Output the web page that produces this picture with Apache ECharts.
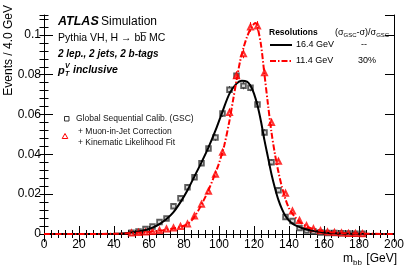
<!DOCTYPE html>
<html><head><meta charset="utf-8">
<script src="https://cdn.jsdelivr.net/npm/echarts@6/dist/echarts.min.js"></script>
<style>html,body{margin:0;padding:0;background:#fff}#c{width:407px;height:276px}</style>
</head><body><div id="c"></div>
<script>
// ---- data ----
const binCenters = [50,54,58,62,66,70,74,78,82,86,90,94,98,102,106,110,114,118,122,126,130,134,138,142,146,150,154,158,162,166,170,174,178,182];
const gscPoints = [0.0006,0.0012,0.0025,0.0038,0.0060,0.0078,0.0140,0.0180,0.0235,0.0285,0.0355,0.0430,0.0485,0.0605,0.0725,0.0795,0.0745,0.0735,0.0650,0.0510,0.0360,0.0220,0.0085,0.0065,0.0030,0.0018,0.0012,0.0008,0.0005,0.0005,0.0004,0.0002,0.0001,0.0001];
const gscErrors = [0.0003,0.0004,0.0005,0.0006,0.0007,0.0008,0.0010,0.0011,0.0012,0.0013,0.0014,0.0015,0.0016,0.0017,0.0018,0.0019,0.0018,0.0018,0.0017,0.0016,0.0014,0.0011,0.0007,0.0006,0.0004,0.0003,0.0003,0.0002,0.0002,0.0002,0.0002,0.0001,0.0001,0.0001];
const klfPoints = [0.0005,0.0008,0.0010,0.0013,0.0018,0.0025,0.0030,0.0038,0.0050,0.0090,0.0150,0.0215,0.0300,0.0410,0.0610,0.0795,0.0905,0.1040,0.1045,0.0810,0.0560,0.0365,0.0205,0.0115,0.0068,0.0042,0.0026,0.0016,0.0010,0.0007,0.0005,0.0003,0.0002,0.0001];
const klfErrors = [0.0002,0.0003,0.0003,0.0004,0.0004,0.0005,0.0005,0.0006,0.0007,0.0009,0.0011,0.0013,0.0015,0.0017,0.0019,0.0021,0.0022,0.0024,0.0024,0.0021,0.0018,0.0014,0.0011,0.0008,0.0006,0.0005,0.0004,0.0003,0.0002,0.0002,0.0002,0.0001,0.0001,0.0001];
const fitGscX = [0,40,46,50,54,58,62,66,70,74,78,82,86,90,94,98,102,106,110,113,116,118,120,122,124,126,128,130,132,134,136,138,140,142,144,148,152,156,160,166,172,180,200];
const fitGscY = [0,0.0001,0.0004,0.0008,0.0013,0.0020,0.0032,0.0050,0.0075,0.0110,0.0160,0.0220,0.0290,0.0360,0.0435,0.0520,0.0615,0.0705,0.0755,0.0770,0.0765,0.0745,0.0705,0.0645,0.0565,0.0470,0.0385,0.0300,0.0230,0.0170,0.0125,0.0090,0.0068,0.0052,0.0042,0.0028,0.0019,0.0013,0.0008,0.0004,0.0002,0.0001,0];
const fitKlfX = [0,40,50,56,62,68,74,78,82,85,88,91,94,97,100,103,106,108,110,112,114,116,118,120,121,122,124,126,128,130,132,134,136,138,140,143,146,150,154,158,164,170,180,200];
const fitKlfY = [0,0.0001,0.0005,0.0008,0.0012,0.0019,0.0028,0.0036,0.0050,0.0075,0.0115,0.0165,0.0220,0.0285,0.0355,0.0445,0.0570,0.0670,0.0770,0.0865,0.0935,0.0990,0.1030,0.1055,0.1060,0.1040,0.0950,0.0800,0.0650,0.0510,0.0400,0.0310,0.0235,0.0175,0.0130,0.0090,0.0062,0.0038,0.0024,0.0016,0.0009,0.0005,0.0002,0];
const xRange = [0, 200], xStep = 20;
const yRange = [0, 0.11], yStep = 0.02, yMinorStep = 0.004;

const FONT = '"Liberation Sans", Arial, Helvetica, sans-serif';
const RED = '#ff0000';
const chart = echarts.init(document.getElementById('c'), null, {renderer: 'canvas'});

const zip = (xs, ys) => xs.map((x, i) => [x, ys[i]]);
const withErr = (ys, es) => binCenters.map((x, i) => [x, ys[i], es[i]]);

function errBar(color) {
  return function (params, api) {
    const x = api.value(0), y = api.value(1), e = api.value(2);
    const p1 = api.coord([x, y + e]), p2 = api.coord([x, y - e]);
    return {type: 'line', shape: {x1: p1[0], y1: p1[1], x2: p2[0], y2: p2[1]},
            style: {stroke: color, lineWidth: 1}};
  };
}

const xBase = {
  type: 'value', min: xRange[0], max: xRange[1], interval: xStep,
  axisLine: {show: true, lineStyle: {color: '#000', width: 1}},
  axisTick: {show: true, inside: true, length: 8, lineStyle: {color: '#000', width: 1}},
  minorTick: {show: true, splitNumber: 5, length: 4, lineStyle: {color: '#000', width: 1}},
  splitLine: {show: false}, minorSplitLine: {show: false}
};
const yMajor = (pos, labels) => ({
  type: 'value', position: pos, min: yRange[0], max: yRange[1], interval: yStep,
  axisLine: {show: true, onZero: false, lineStyle: {color: '#000', width: 1}},
  axisTick: {show: true, inside: true, length: 9, lineStyle: {color: '#000', width: 1}},
  splitLine: {show: false},
  axisLabel: labels ? {show: true, showMaxLabel: false, color: '#000', fontSize: 12, fontFamily: FONT, margin: 3,
    formatter: v => v === 0 ? '0' : String(parseFloat(v.toFixed(3)))} : {show: false}
});
const yMinor = (pos) => ({
  type: 'value', position: pos, min: yRange[0], max: yRange[1], interval: yMinorStep,
  axisLine: {show: false},
  axisTick: {show: true, inside: true, length: 4.5, lineStyle: {color: '#000', width: 1}},
  splitLine: {show: false}, axisLabel: {show: false}
});

const option = {
  animation: false,
  backgroundColor: '#fff',
  grid: {left: 44, right: 12, top: 15, bottom: 42, containLabel: false},
  xAxis: [
    Object.assign({}, xBase, {position: 'bottom',
      axisLabel: {show: true, color: '#000', fontSize: 12, fontFamily: FONT, margin: 5}}),
    Object.assign({}, xBase, {position: 'top', axisLabel: {show: false}})
  ],
  yAxis: [yMajor('left', true), yMinor('left'), yMajor('right', false), yMinor('right')],
  series: [
    {type: 'custom', xAxisIndex: 0, yAxisIndex: 0, renderItem: errBar('#333'),
     data: withErr(gscPoints, gscErrors), z: 2, silent: true},
    {type: 'custom', xAxisIndex: 0, yAxisIndex: 0, renderItem: errBar(RED),
     data: withErr(klfPoints, klfErrors), z: 2, silent: true},
    {type: 'scatter', xAxisIndex: 0, yAxisIndex: 0, symbol: 'emptyRect', symbolSize: 4.5,
     itemStyle: {color: '#333', borderColor: '#333', borderWidth: 1},
     data: zip(binCenters, gscPoints), z: 3},
    {type: 'scatter', xAxisIndex: 0, yAxisIndex: 0, symbol: 'emptyTriangle', symbolSize: 5,
     itemStyle: {color: RED, borderColor: RED, borderWidth: 1},
     data: zip(binCenters, klfPoints), z: 3},
    {type: 'line', xAxisIndex: 0, yAxisIndex: 0, data: zip(fitGscX, fitGscY), smooth: 0.3,
     showSymbol: false, lineStyle: {color: '#000', width: 2}, z: 4},
    {type: 'line', xAxisIndex: 0, yAxisIndex: 0, data: zip(fitKlfX, fitKlfY), smooth: 0.3,
     showSymbol: false, lineStyle: {color: RED, width: 2, type: [6, 2, 1.5, 2]}, z: 5}
  ],
  graphic: [
    {type: 'text', x: 9, y: 5, rotation: Math.PI / 2,
     style: {text: 'Events / 4.0 GeV', fill: '#000', font: '12px ' + FONT, textAlign: 'right', textVerticalAlign: 'middle'}},
    {type: 'text', x: 397, y: 259,
     style: {text: 'm{s|bb} [GeV]', fill: '#000', font: '12px ' + FONT, textAlign: 'right', textVerticalAlign: 'middle',
       rich: {s: {fontSize: 8, fontFamily: FONT, padding: [7, 1, 0, 0]}}}},
    {type: 'text', x: 58, y: 22,
     style: {text: 'ATLAS', fill: '#000', font: 'italic bold 12.5px ' + FONT, textVerticalAlign: 'middle'}},
    {type: 'text', x: 101, y: 22,
     style: {text: 'Simulation', fill: '#000', font: '12px ' + FONT, textVerticalAlign: 'middle'}},
    {type: 'text', x: 58, y: 38.5,
     style: {text: 'Pythia VH, H \u2192 bb\u0305 MC', fill: '#000', font: '10.5px ' + FONT, textVerticalAlign: 'middle'}},
    {type: 'text', x: 58, y: 54.5,
     style: {text: '2 lep., 2 jets, 2 b-tags', fill: '#000', font: 'italic bold 10px ' + FONT, textVerticalAlign: 'middle'}},
    {type: 'text', x: 58, y: 70.5,
     style: {text: 'p', fill: '#000', font: 'italic bold 11px ' + FONT, textVerticalAlign: 'middle'}},
    {type: 'text', x: 65, y: 66.5,
     style: {text: 'V', fill: '#000', font: 'italic bold 7px ' + FONT, textVerticalAlign: 'middle'}},
    {type: 'text', x: 65, y: 74.5,
     style: {text: 'T', fill: '#000', font: 'italic bold 7px ' + FONT, textVerticalAlign: 'middle'}},
    {type: 'text', x: 73, y: 70.5,
     style: {text: 'inclusive', fill: '#000', font: 'italic bold 10.5px ' + FONT, textVerticalAlign: 'middle'}},
    // left legend
    {type: 'rect', shape: {x: 64.5, y: 116.5, width: 4.5, height: 4.5}, style: {fill: 'none', stroke: '#333', lineWidth: 1}},
    {type: 'text', x: 76, y: 119,
     style: {text: 'Global Sequential Calib. (GSC)', fill: '#111', font: '8.5px ' + FONT, textVerticalAlign: 'middle'}},
    {type: 'polygon', shape: {points: [[65, 133.5], [67.8, 138.5], [62.2, 138.5]]}, style: {fill: 'none', stroke: RED, lineWidth: 1}},
    {type: 'text', x: 78, y: 132,
     style: {text: '+ Muon-in-Jet Correction', fill: '#111', font: '8.5px ' + FONT, textVerticalAlign: 'middle'}},
    {type: 'text', x: 78, y: 143,
     style: {text: '+ Kinematic Likelihood Fit', fill: '#111', font: '8.5px ' + FONT, textVerticalAlign: 'middle'}},
    // right legend
    {type: 'text', x: 269, y: 33,
     style: {text: 'Resolutions', fill: '#000', font: 'bold 8.5px ' + FONT, textVerticalAlign: 'middle'}},
    {type: 'text', x: 335, y: 33,
     style: {text: '(\u03c3{s|GSC}-\u03c3)/\u03c3{s|GSC}', fill: '#000', font: '9px ' + FONT, textVerticalAlign: 'middle',
       rich: {s: {fontSize: 6, fontFamily: FONT, padding: [5, 0, 0, 0]}}}},
    {type: 'line', shape: {x1: 270, y1: 45, x2: 292, y2: 45}, style: {stroke: '#000', lineWidth: 2}},
    {type: 'text', x: 296, y: 45,
     style: {text: '16.4 GeV', fill: '#000', font: '9px ' + FONT, textVerticalAlign: 'middle'}},
    {type: 'text', x: 361, y: 45,
     style: {text: '--', fill: '#000', font: '9px ' + FONT, textVerticalAlign: 'middle'}},
    {type: 'line', shape: {x1: 270, y1: 61, x2: 292, y2: 61}, style: {stroke: RED, lineWidth: 2, lineDash: [6, 2, 1.5, 2]}},
    {type: 'text', x: 296, y: 61,
     style: {text: '11.4 GeV', fill: '#000', font: '9px ' + FONT, textVerticalAlign: 'middle'}},
    {type: 'text', x: 358, y: 61,
     style: {text: '30%', fill: '#000', font: '9px ' + FONT, textVerticalAlign: 'middle'}}
  ]
};
chart.setOption(option);
</script>
</body></html>
